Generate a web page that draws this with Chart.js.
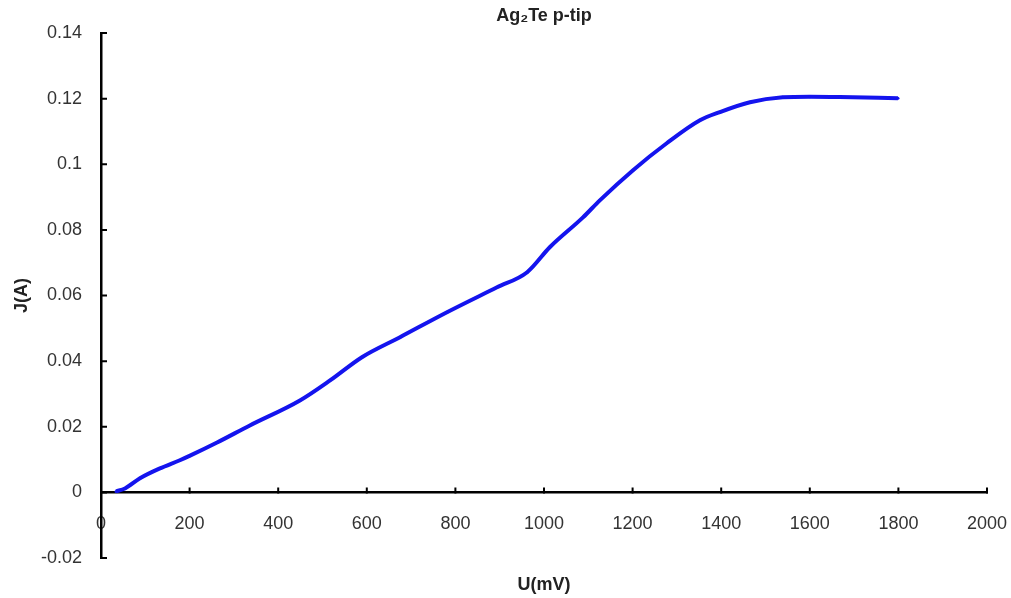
<!DOCTYPE html>
<html><head><meta charset="utf-8">
<script src="https://cdn.jsdelivr.net/npm/chart.js@4/dist/chart.umd.min.js"></script>
<style>html,body{margin:0;padding:0;background:#fff}#wrap{width:1011px;height:598px;position:relative}</style>
</head><body><div id="wrap"><canvas id="c"></canvas></div>
<script>
const chartTitle = 'Ag\u2082Te p-tip';
const xTitle = 'U(mV)';
const yTitle = 'J(A)';
const uValues = [34, 54, 88, 133, 178, 201, 262, 336, 449, 517, 589, 675, 781, 894, 962, 1013, 1088, 1126, 1201, 1277, 1352, 1397, 1465, 1539, 1600, 1668, 1799];
const jValues = [0.0003, 0.0012, 0.0043, 0.0073, 0.0098, 0.0112, 0.0152, 0.0204, 0.0280, 0.0341, 0.0412, 0.0473, 0.0549, 0.0625, 0.0671, 0.0747, 0.0838, 0.0890, 0.0982, 0.1064, 0.1134, 0.1159, 0.1189, 0.1204, 0.1206, 0.1205, 0.1201];
const xTickLabels = ['0','200','400','600','800','1000','1200','1400','1600','1800','2000'];
const yTickLabels = ['-0.02','0','0.02','0.04','0.06','0.08','0.1','0.12','0.14'];

const FONT = "'Liberation Sans', Arial, sans-serif";

const axisTicks = {
  id: 'axisTicks',
  afterDraw(chart) {
    const {ctx, scales: {x, y}, chartArea} = chart;
    ctx.save();
    ctx.strokeStyle = '#000';
    ctx.lineWidth = 2;
    const y0 = y.getPixelForValue(0);
    ctx.beginPath();
    x.ticks.forEach(t => {
      if (t.value === 0) return;
      const px = x.getPixelForValue(t.value);
      ctx.moveTo(px, y0 + 1); ctx.lineTo(px, y0 - 5);
    });
    y.ticks.forEach(t => {
      const py = y.getPixelForValue(t.value);
      ctx.moveTo(chartArea.left, py); ctx.lineTo(chartArea.left + 6, py);
    });
    ctx.stroke();
    ctx.restore();
  }
};

new Chart(document.getElementById('c'), {
  type: 'scatter',
  data: {
    datasets: [{
      data: uValues.map((u, i) => ({x: u, y: jValues[i]})),
      showLine: true,
      borderColor: '#1414ee',
      backgroundColor: '#1414ee',
      borderWidth: 4,
      pointRadius: 1.5,
      pointBorderWidth: 0,
      cubicInterpolationMode: 'monotone'
    }]
  },
  options: {
    responsive: true,
    maintainAspectRatio: false,
    animation: false,
    layout: {autoPadding: false, padding: {left: 0, right: 24, top: 0, bottom: 0}},
    plugins: {
      legend: {display: false},
      tooltip: {enabled: false},
      title: {
        display: true, text: chartTitle, fullSize: false,
        color: '#222', font: {family: FONT, size: 18, weight: 'bold'},
        padding: {top: 5, bottom: 6.4}
      },
      subtitle: {
        display: true, text: xTitle, position: 'bottom', fullSize: false,
        color: '#222', font: {family: FONT, size: 18, weight: 'bold'},
        padding: {top: 16.4, bottom: 2}
      }
    },
    scales: {
      x: {
        type: 'linear', position: {y: 0}, min: 0, max: 2000,
        afterFit(s) { s.paddingLeft = 0; s.paddingRight = 0; },
        grid: {display: true, drawOnChartArea: false, drawTicks: false, color: 'rgba(0,0,0,0)'},
        border: {display: true, color: '#000', width: 2.5},
        ticks: {
          stepSize: 200, autoSkip: false, maxRotation: 0, padding: 21,
          color: '#333', font: {family: FONT, size: 18},
          callback: (v) => xTickLabels[Math.round(v / 200)]
        }
      },
      y: {
        type: 'linear', position: 'left', min: -0.02, max: 0.14,
        afterFit(s) { s.width = 101; s.paddingTop = 0; s.paddingBottom = 0; },
        grid: {display: true, drawOnChartArea: false, drawTicks: false, color: 'rgba(0,0,0,0)'},
        border: {display: true, color: '#000', width: 2.5},
        title: {display: true, text: yTitle, color: '#222', font: {family: FONT, size: 18, weight: 'bold'}, padding: {top: 11, bottom: 0}},
        ticks: {
          stepSize: 0.02, autoSkip: false, padding: 19,
          color: '#333', font: {family: FONT, size: 18},
          callback: (v) => yTickLabels[Math.round((v + 0.02) / 0.02)]
        }
      }
    }
  },
  plugins: [axisTicks]
});
</script>
</body></html>
